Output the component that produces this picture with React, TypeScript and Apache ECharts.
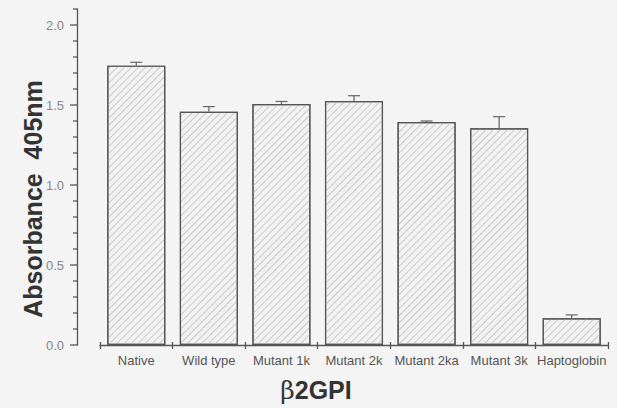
import React, { useEffect, useRef } from "react";
import * as echarts from "echarts";

const categories = ["Native", "Wild type", "Mutant 1k", "Mutant 2k", "Mutant 2ka", "Mutant 3k", "Haptoglobin"];
const means = [1.746, 1.458, 1.506, 1.525, 1.394, 1.354, 0.167];
const errorTops = [1.767, 1.49, 1.522, 1.558, 1.4, 1.427, 0.188];
const yTicks = [0, 0.5, 1.0, 1.5, 2.0];
const yMinorTicks = [0.1, 0.2, 0.3, 0.4, 0.6, 0.7, 0.8, 0.9, 1.1, 1.2, 1.3, 1.4, 1.6, 1.7, 1.8, 1.9, 2.1];

export default function App() {
  const ref = useRef<HTMLDivElement>(null);
  useEffect(() => {
    if (!ref.current) return;
    const chart = echarts.init(ref.current, null, { renderer: "svg" });
    const font = "'Liberation Sans', Arial, sans-serif";
    const axisColor = "#555";
    const tickData = [
      ...yTicks.map((v) => [0, v, 7]),
      ...yMinorTicks.map((v) => [0, v, 4]),
    ];
    chart.setOption({
      animation: false,
      backgroundColor: "#f4f4f4",
      grid: [
        { left: 100, right: 9, top: 9, bottom: 63 },
        { left: 77, right: 9, top: 9, bottom: 63 },
      ],
      xAxis: [
        {
          type: "category",
          gridIndex: 0,
          data: categories,
          axisLine: { show: true, lineStyle: { color: axisColor, width: 1.3 } },
          axisTick: { show: true, interval: 0, length: 4, lineStyle: { color: axisColor, width: 1.3 } },
          axisLabel: { show: true, interval: 0, color: "#555", fontSize: 13, fontFamily: font, margin: 9 },
        },
        {
          type: "category",
          gridIndex: 0,
          data: categories,
          position: "bottom",
          axisLine: { show: false },
          axisTick: { show: true, interval: 0, inside: true, length: 3, lineStyle: { color: axisColor, width: 1.3 } },
          axisLabel: { show: false },
        },
        {
          type: "value",
          gridIndex: 1,
          min: 0,
          max: 1,
          show: false,
        },
      ],
      yAxis: [
        {
          type: "value",
          gridIndex: 0,
          min: 0,
          max: 2.1,
          show: false,
          splitLine: { show: false },
        },
        {
          type: "value",
          gridIndex: 1,
          min: 0,
          max: 2.1,
          interval: 0.5,
          splitLine: { show: false },
          axisLine: { show: true, onZero: false, lineStyle: { color: axisColor, width: 1.3 } },
          axisTick: { show: false },
          axisLabel: {
            color: "#888",
            fontSize: 13,
            fontFamily: font,
            margin: 13,
            showMaxLabel: false,
            formatter: (v: number) => (yTicks.includes(v) ? v.toFixed(1) : ""),
          },
        },
      ],
      series: [
        {
          type: "bar",
          xAxisIndex: 0,
          yAxisIndex: 0,
          data: means,
          barCategoryGap: "20%",
          itemStyle: {
            color: "#f2f2f2",
            borderColor: "#555",
            borderWidth: 1.2,
            decal: {
              symbol: "rect",
              symbolSize: 1,
              color: "#cacaca",
              dashArrayX: [1, 0],
              dashArrayY: [1, 4],
              rotation: -Math.PI / 4,
            },
          },
        },
        {
          type: "custom",
          xAxisIndex: 0,
          yAxisIndex: 0,
          data: categories.map((_, i) => [i, means[i], errorTops[i]]),
          z: 5,
          renderItem: (params: any, api: any) => {
            const x = api.value(0);
            const p0 = api.coord([x, api.value(1)]);
            const p1 = api.coord([x, api.value(2)]);
            const style = { stroke: "#666", lineWidth: 1.2 };
            return {
              type: "group",
              children: [
                { type: "line", shape: { x1: p0[0], y1: p0[1], x2: p1[0], y2: p1[1] }, style },
                { type: "line", shape: { x1: p1[0] - 6, y1: p1[1], x2: p1[0] + 6, y2: p1[1] }, style },
              ],
            };
          },
        },
        {
          type: "custom",
          xAxisIndex: 2,
          yAxisIndex: 1,
          data: tickData,
          z: 5,
          clip: false,
          renderItem: (params: any, api: any) => {
            const p = api.coord([api.value(0), api.value(1)]);
            const len = api.value(2);
            return {
              type: "line",
              shape: { x1: p[0] - len, y1: p[1], x2: p[0], y2: p[1] },
              style: { stroke: axisColor, lineWidth: 1.3 },
            };
          },
        },
      ],
      graphic: [
        {
          type: "text",
          x: 33,
          y: 199,
          rotation: Math.PI / 2,
          style: {
            text: "Absorbance  405nm",
            fontSize: 25,
            fontWeight: "bold",
            fontFamily: font,
            fill: "#333",
            align: "center",
            verticalAlign: "middle",
          },
        },
        {
          type: "text",
          x: 316,
          y: 390,
          style: {
            text: "{b|β}2GPI",
            fontSize: 25,
            fontWeight: "bold",
            fontFamily: font,
            fill: "#333",
            align: "center",
            verticalAlign: "middle",
            rich: {
              b: { fontSize: 25, fontWeight: "normal", fontFamily: "'DejaVu Serif', serif", fill: "#333" },
            },
          },
        },
      ],
    });
    return () => chart.dispose();
  }, []);
  return <div ref={ref} style={{ width: 617, height: 408, position: "absolute", left: 0, top: 0 }} />;
}
